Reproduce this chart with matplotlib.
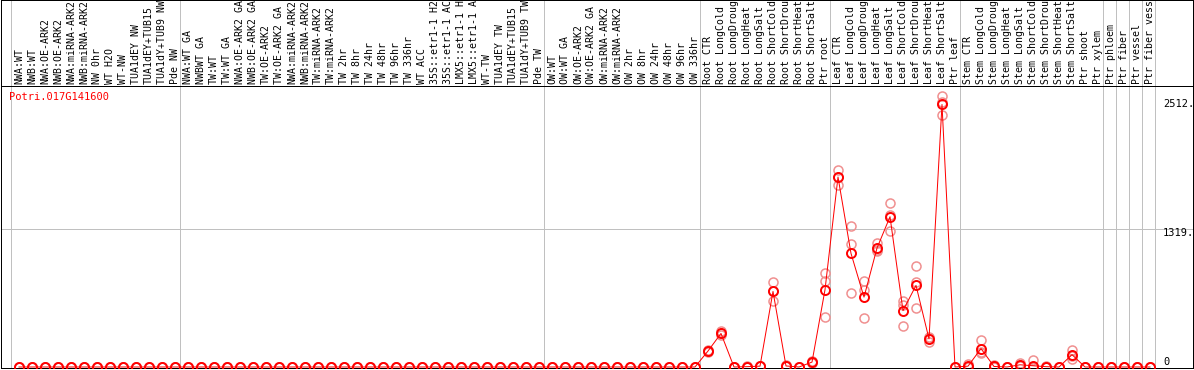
import matplotlib
matplotlib.use("Agg")
import matplotlib.pyplot as plt

gene = "Potri.017G141600"

categories = [
    "NWA:WT", "NWB:WT", "NWA:OE-ARK2", "NWB:OE-ARK2", "NWA:miRNA-ARK2", "NWB:miRNA-ARK2",
    "NW 0hr", "WT H2O", "WT-NW", "TUA1dEY NW", "TUA1dEY+TUB15", "TUA1dY+TUB9 NW", "Pde NW",
    "NWA:WT GA", "NWBWT GA", "TW:WT", "TW:WT GA", "NWA:OE-ARK2 GA", "NWB:OE-ARK2 GA",
    "TW:OE-ARK2", "TW:OE-ARK2 GA", "NWA:miRNA-ARK2", "NWB:miRNA-ARK2", "TW:miRNA-ARK2",
    "TW:miRNA-ARK2", "TW 2hr", "TW 8hr", "TW 24hr", "TW 48hr", "TW 96hr", "TW 336hr",
    "WT ACC", "35S::etr1-1 H2", "35S::etr1-1 AC", "LMX5::etr1-1 H", "LMX5::etr1-1 A",
    "WT-TW", "TUA1dEY TW", "TUA1dEY+TUB15", "TUA1dY+TUB9 TW", "Pde TW",
    "OW:WT", "OW:WT GA", "OW:OE-ARK2", "OW:OE-ARK2 GA", "OW:miRNA-ARK2", "OW:miRNA-ARK2",
    "OW 2hr", "OW 8hr", "OW 24hr", "OW 48hr", "OW 96hr", "OW 336hr",
    "Root CTR", "Root LongCold", "Root LongDroug", "Root LongHeat", "Root LongSalt",
    "Root ShortCold", "Root ShortDrou", "Root ShortHeat", "Root ShortSalt", "Ptr root",
    "Leaf CTR", "Leaf LongCold", "Leaf LongDroug", "Leaf LongHeat", "Leaf LongSalt",
    "Leaf ShortCold", "Leaf ShortDrou", "Leaf ShortHeat", "Leaf ShortSalt", "Ptr leaf",
    "Stem CTR", "Stem LongCold", "Stem LongDroug", "Stem LongHeat", "Stem LongSalt",
    "Stem ShortCold", "Stem ShortDrou", "Stem ShortHeat", "Stem ShortSalt", "Ptr shoot",
    "Ptr xylem", "Ptr phloem", "Ptr fiber", "Ptr vessel", "Ptr fiber vessel",
]

# group boundaries (index of first category of each group, plus end)
group_edges = [0, 13, 41, 53, 63, 73, 84, 85, 86, 87, 88]

means = [
    0, 0, 0, 0, 0, 0, 0, 0, 0, 0, 0, 0, 0,
    0, 0, 0, 0, 0, 0, 0, 0, 0, 0, 0, 0, 0, 0, 0, 0, 0, 0, 0, 0, 0, 0, 0, 0, 0, 0, 0, 0,
    0, 0, 0, 0, 0, 0, 0, 0, 0, 0, 0, 0,
    153, 321, 0, 3, 8, 723, 10, 0, 47, 739,
    1818, 1087, 669, 1138, 1438, 539, 781, 269, 2512, 0,
    8, 176, 5, 0, 21, 12, 3, 0, 118, 0, 0,
    0, 0, 0, 0,
]

rep_a = [
    0, 0, 0, 0, 0, 0, 0, 0, 0, 0, 0, 0, 0,
    0, 0, 0, 0, 0, 0, 0, 0, 0, 0, 0, 0, 0, 0, 0, 0, 0, 0, 0, 0, 0, 0, 0, 0, 0, 0, 0, 0,
    0, 0, 0, 0, 0, 0, 0, 0, 0, 0, 0, 0,
    160, 346, 0, 5, 10, 813, 20, 0, 55, 900,
    1882, 1345, 823, 1190, 1567, 633, 971, 240, 2591, 0,
    31, 256, 15, 0, 37, 63, 10, 0, 166, 0, 0,
    0, 0, 0, 0,
]

rep_b = [
    0, 0, 0, 0, 0, 0, 0, 0, 0, 0, 0, 0, 0,
    0, 0, 0, 0, 0, 0, 0, 0, 0, 0, 0, 0, 0, 0, 0, 0, 0, 0, 0, 0, 0, 0, 0, 0, 0, 0, 0, 0,
    0, 0, 0, 0, 0, 0, 0, 0, 0, 0, 0, 0,
    150, 304, 0, 2, 6, 633, 5, 0, 40, 823,
    1737, 1181, 739, 1109, 1297, 388, 562, 290, 2408, 0,
    0, 133, 0, 0, 15, 0, 0, 0, 79, 0, 0,
    0, 0, 0, 0,
]

rep_c = [
    0, 0, 0, 0, 0, 0, 0, 0, 0, 0, 0, 0, 0,
    0, 0, 0, 0, 0, 0, 0, 0, 0, 0, 0, 0, 0, 0, 0, 0, 0, 0, 0, 0, 0, 0, 0, 0, 0, 0, 0, 0,
    0, 0, 0, 0, 0, 0, 0, 0, 0, 0, 0, 0,
    148, 321, 0, 2, 8, 723, 5, 0, 47, 475,
    1818, 707, 469, 1115, 1450, 596, 810, 277, 2537, 0,
    0, 140, 0, 0, 11, 0, 0, 0, 110, 0, 0,
    0, 0, 0, 0,
]

axis_labels = ["2512.", "1319.", "0"]
axis_values = [2512, 1319, 0]
grid_value = 1319

W, H = 1194, 370
fig = plt.figure(figsize=(W / 100, H / 100), dpi=100)
fig.patch.set_facecolor("white")

LW = 0.72
GRAY = "#c0c0c0"
MONO = "DejaVu Sans Mono"

xmin, xmax = (1 - 19) / 13, (1193 - 19) / 13

# main plot area
ax = fig.add_axes([1 / W, 2 / H, 1192 / W, 282 / H])
ax.set_xlim(xmin, xmax)
ax.set_ylim(-9.6, 2689)
ax.set_xticks([])
ax.set_yticks([])
for s in ax.spines.values():
    s.set_linewidth(LW)
    s.set_color("black")

# header area
hx = fig.add_axes([1 / W, 284 / H, 1192 / W, 86 / H])
hx.set_xlim(xmin, xmax)
hx.set_ylim(86, 0)
hx.set_xticks([])
hx.set_yticks([])
hx.patch.set_alpha(0)
for k, s in hx.spines.items():
    s.set_linewidth(LW)
    s.set_color("black")
hx.spines["bottom"].set_visible(False)

for b in group_edges:
    ax.axvline(b - 0.65, color=GRAY, lw=LW, zorder=1)
    hx.axvline(b - 0.65, color=GRAY, lw=LW, zorder=1)

ax.axhline(grid_value, color=GRAY, lw=LW, zorder=1)

xs = list(range(len(categories)))
for i, lab in enumerate(categories):
    hx.text(i, 84, lab[:14], rotation=90, ha="center", va="bottom",
            fontsize=7.1, family=MONO, color="black", clip_on=True)

# replicates
for reps in (rep_a, rep_b, rep_c):
    ax.plot(xs, reps, linestyle="none", marker="o", markersize=6.5,
            markerfacecolor="none", markeredgecolor="#f09090", markeredgewidth=1.1,
            zorder=2, clip_on=True)

# means
ax.plot(xs, means, color="red", lw=LW, marker="o", markersize=6.5,
        markerfacecolor="none", markeredgecolor="red", markeredgewidth=1.4,
        zorder=3, clip_on=True)

offsets = [0, -4, 5]
for lab, v, off in zip(axis_labels, axis_values, offsets):
    ax.annotate(lab, xy=(88.0, v), xytext=(0, off), textcoords="offset pixels",
                ha="left", va="center", fontsize=7.5, family=MONO, color="black")

fig.text(9 / W, 1 - 97 / H, gene, ha="left", va="center", fontsize=7.5,
         family=MONO, color="red")

fig.savefig("out.png", dpi=100)
